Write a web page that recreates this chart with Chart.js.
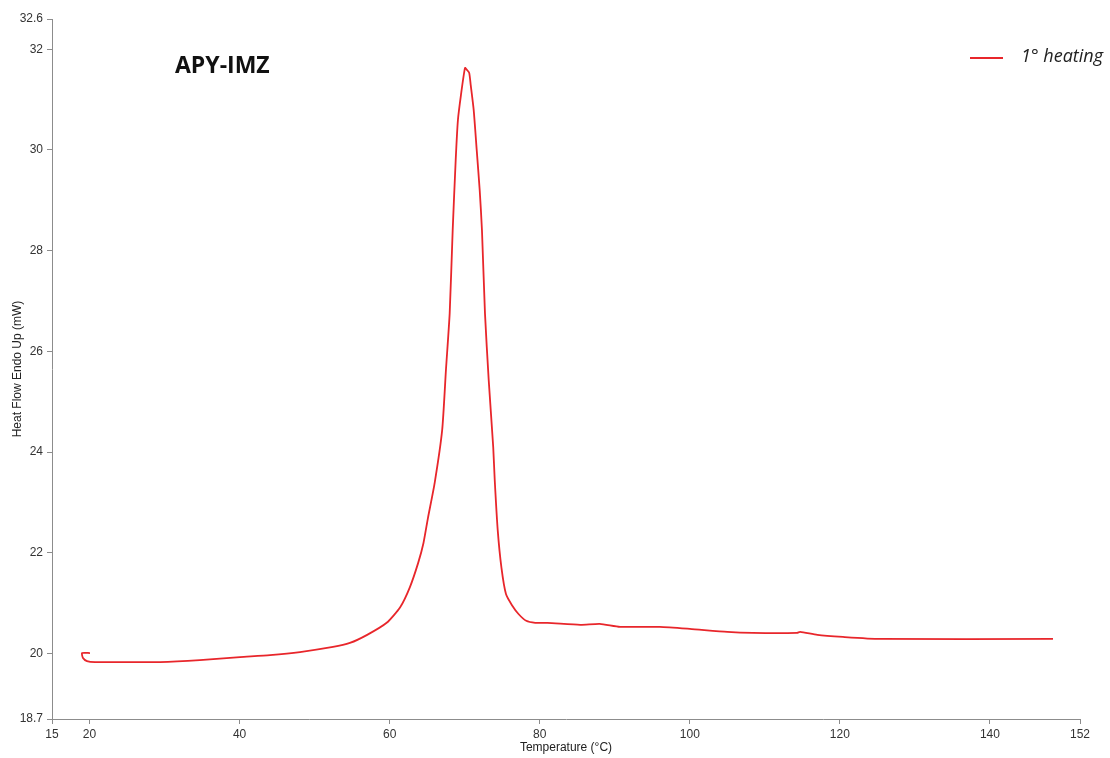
<!DOCTYPE html>
<html>
<head>
<meta charset="utf-8">
<script src="https://cdn.jsdelivr.net/npm/chart.js@4.4.1/dist/chart.umd.min.js"></script>
<style>
  html, body { margin: 0; padding: 0; background: #fff; }
  #wrap { width: 1110px; height: 758px; }
</style>
</head>
<body>
<div id="wrap"><canvas id="dscChart"></canvas></div>
<script>
// DSC trace, first heating run
const temperature = [
  20.06, 19.0, 19.13, 19.66, 20.73, 25.4, 29.4, 34.7, 40.05, 44.05,
  48.05, 52.45, 54.7, 57.0, 59.6, 61.4, 62.7, 63.8, 64.5, 65.1,
  66.0, 67.0, 67.5, 68.0, 68.4, 68.8, 69.1, 69.5, 70.04, 70.3,
  70.6, 70.8, 71.2, 71.6, 72.0, 72.3, 72.7, 73.2, 73.8, 74.0,
  74.4, 74.9, 75.5, 76.3, 77.2, 78.2, 79.4, 81.0, 85.4, 88.0,
  90.7, 96.0, 100.0, 105.0, 108.4, 114.3, 114.7, 117.0, 120.4, 125.3,
  148.4
];
const heatFlow = [
  20.01, 20.01, 19.91, 19.85, 19.83, 19.83, 19.83, 19.87, 19.93, 19.97,
  20.03, 20.13, 20.21, 20.37, 20.61, 20.92, 21.32, 21.80, 22.19, 22.69,
  23.39, 24.44, 25.63, 26.76, 28.41, 29.8, 30.6, 31.09, 31.63, 31.59,
  31.53, 31.29, 30.79, 30.0, 29.2, 28.41, 26.76, 25.43, 24.1, 23.45,
  22.45, 21.7, 21.18, 20.96, 20.78, 20.65, 20.61, 20.61, 20.57, 20.59,
  20.53, 20.53, 20.49, 20.43, 20.41, 20.41, 20.43, 20.37, 20.33, 20.29,
  20.29
];
const xTicks = [15, 20, 40, 60, 80, 100, 120, 140, 152];
const yTicks = [18.7, 20, 22, 24, 26, 28, 30, 32, 32.6];

const sampleName = 'APY-IMZ';
const runLabel = '1° heating';
const lineColor = '#e8262b';
const axisColor = '#8c8c8c';
const tickFont = { family: '"Liberation Sans", Arial, sans-serif', size: 12 };

const points = temperature.map((t, i) => ({ x: t, y: heatFlow[i] }));

// sample name and the legend drawn over the plot
const overlay = {
  id: 'overlay',
  afterDraw(chart) {
    const ctx = chart.ctx;
    const ds = chart.data.datasets[0];
    ctx.save();
    ctx.fillStyle = '#111';
    ctx.font = 'bold 23px "Open Sans", sans-serif';
    ctx.textBaseline = 'middle';
    ctx.textAlign = 'left';
    ctx.fillText(sampleName, 175, 66);

    ctx.strokeStyle = ds.borderColor;
    ctx.lineWidth = 2;
    ctx.beginPath();
    ctx.moveTo(970, 58);
    ctx.lineTo(1003, 58);
    ctx.stroke();
    ctx.fillStyle = '#222';
    ctx.font = 'italic 18px "Open Sans", sans-serif';
    ctx.fillText(ds.label, 1021, 57);
    ctx.restore();
  }
};

new Chart(document.getElementById('dscChart'), {
  type: 'line',
  data: {
    datasets: [{
      label: runLabel,
      data: points,
      borderColor: lineColor,
      borderWidth: 1.8,
      pointRadius: 0,
      tension: 0.2,
      fill: false
    }]
  },
  options: {
    responsive: true,
    maintainAspectRatio: false,
    animation: false,
    layout: { padding: { top: 19, right: 30, bottom: 0, left: 0 } },
    plugins: {
      legend: { display: false },
      tooltip: { enabled: false }
    },
    scales: {
      x: {
        type: 'linear',
        min: 15,
        max: 152,
        afterBuildTicks: s => { s.ticks = xTicks.map(v => ({ value: v })); },
        afterFit: s => { s.height = 39; },
        ticks: { font: tickFont, color: '#333', padding: 3, maxRotation: 0 },
        grid: { drawOnChartArea: false, tickLength: 5, color: axisColor },
        border: { color: axisColor },
        title: {
          display: true,
          text: 'Temperature (°C)',
          font: tickFont,
          color: '#222',
          padding: { top: 0, bottom: 3 }
        }
      },
      y: {
        type: 'linear',
        min: 18.7,
        max: 32.6,
        afterBuildTicks: s => { s.ticks = yTicks.map(v => ({ value: v })); },
        afterFit: s => { s.width = 52; },
        ticks: { font: tickFont, color: '#333', padding: 4 },
        grid: { drawOnChartArea: false, tickLength: 5, color: axisColor },
        border: { color: axisColor },
        title: {
          display: true,
          text: 'Heat Flow Endo Up (mW)',
          font: tickFont,
          color: '#222',
          padding: { top: 10, bottom: 0 }
        }
      }
    }
  },
  plugins: [overlay]
});
</script>
</body>
</html>
